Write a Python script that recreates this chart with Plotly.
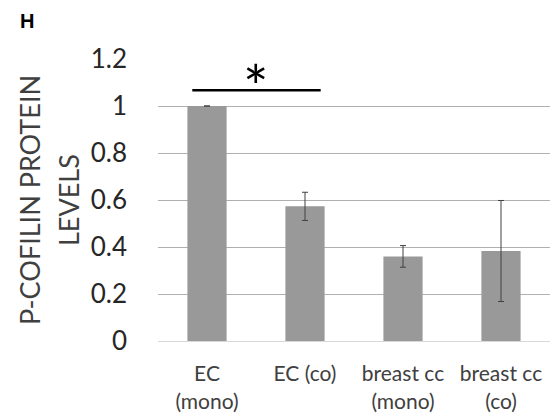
import plotly.graph_objects as go

categories = ["EC<br>(mono)", "EC (co)", "breast cc<br>(mono)", "breast cc<br>(co)"]
values = [1.0, 0.573, 0.36, 0.383]
errors = [0.0, 0.06, 0.046, 0.215]
y_ticks = [0, 0.2, 0.4, 0.6, 0.8, 1.0, 1.2]
y_tick_labels = ["0", "0.2", "0.4", "0.6", "0.8", "1", "1.2"]
sig_x = [-0.15, 1.16]
sig_y = 1.067
sig_label = "*"
panel_label = "H"
y_title_lines = ["P-COFILIN PROTEIN", "LEVELS"]

FONT = "Lato"

fig = go.Figure()
fig.add_trace(go.Bar(
    x=categories, y=values,
    marker=dict(color="#999999", line=dict(width=0)),
    error_y=dict(type="data", array=errors, visible=True, color="#404040",
                 thickness=1, width=3),
    width=0.4,
))

fig.add_shape(type="line", xref="x", yref="y",
              x0=sig_x[0], x1=sig_x[1], y0=sig_y, y1=sig_y,
              line=dict(color="black", width=2.5))
fig.add_annotation(x=sum(sig_x) / 2, y=sig_y, xref="x", yref="y",
                   text=sig_label, showarrow=False, yanchor="bottom",
                   yshift=-34, xshift=0,
                   font=dict(family=FONT, size=60, color="black"))

fig.add_annotation(x=0, y=1, xref="paper", yref="paper", text="<b>" + panel_label + "</b>",
                   showarrow=False, xanchor="center", yanchor="middle",
                   xshift=-131, yshift=38,
                   font=dict(family="Liberation Sans", size=20, color="black"))

for i, (line, xs) in enumerate(zip(y_title_lines, [-129, -90])):
    fig.add_annotation(x=0, y=0.5, xref="paper", yref="paper", text=line,
                       showarrow=False, textangle=-90, xanchor="center",
                       yanchor="middle", xshift=xs,
                       font=dict(family=FONT, size=27, color="#404040"))

fig.update_layout(
    width=551, height=409,
    margin=dict(l=150, r=9, t=51, b=76),
    paper_bgcolor="white", plot_bgcolor="white",
    showlegend=False,
    bargap=0.6,
    xaxis=dict(showgrid=False, showline=True, linecolor="#d9d9d9", linewidth=1,
               ticks="", ticklabelstandoff=14, automargin=False,
               tickfont=dict(family=FONT, size=21, color="#404040"),
               range=[-0.5, 3.5]),
    yaxis=dict(range=[0, 1.2], tickvals=y_ticks, ticktext=y_tick_labels,
               showgrid=True, gridcolor="#b0b0b0", gridwidth=1,
               zeroline=False, showline=False, ticks="", automargin=False,
               ticklabelstandoff=30,
               tickfont=dict(family=FONT, size=26, color="#262626")),
)

fig.write_html("out.html")
